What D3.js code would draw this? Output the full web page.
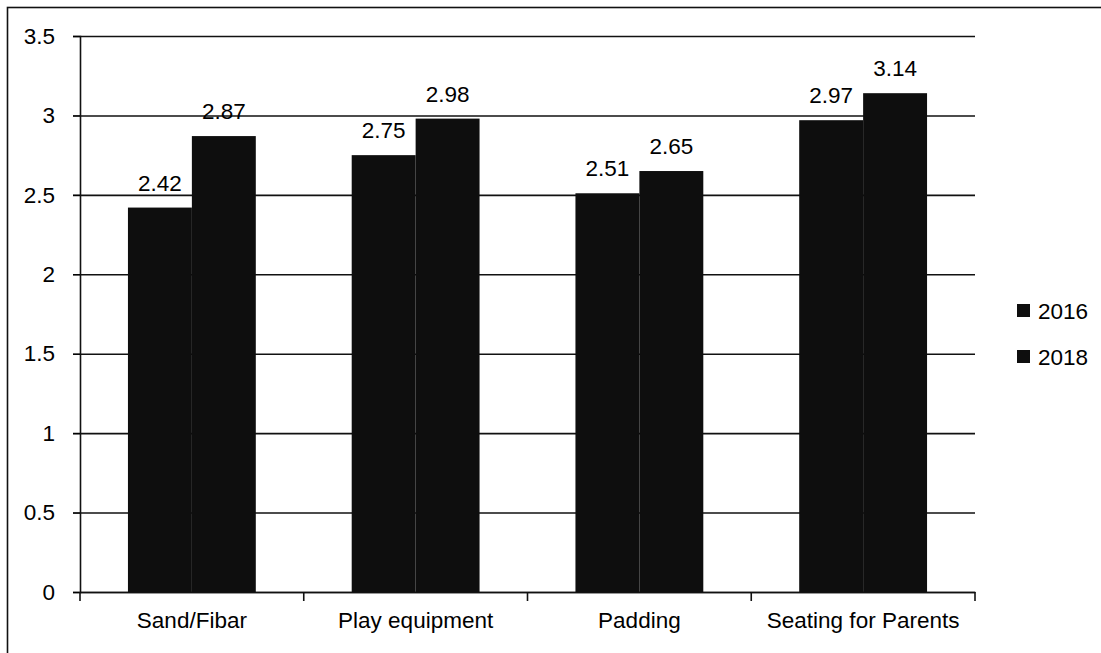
<!DOCTYPE html>
<html>
<head>
<meta charset="utf-8">
<script src="https://cdn.jsdelivr.net/npm/d3@7"></script>
<style>
  body { margin: 0; background: #fff; }
  svg text { font-family: "Liberation Sans", Arial, sans-serif; fill: #000; }
</style>
</head>
<body>
<div id="viz"></div>
<script>
// Datos
let categorias = ['Sand/Fibar', 'Play equipment', 'Padding', 'Seating for Parents'];
let series = ['2016', '2018'];
let valores2016 = [2.42, 2.75, 2.51, 2.97];
let valores2018 = [2.87, 2.98, 2.65, 3.14];
let ticksY = [0, 0.5, 1, 1.5, 2, 2.5, 3, 3.5];

let w = 1101;
let h = 653;
let m = { top: 36, right: 126, bottom: 61, left: 80 };
let colorBarra = '#0e0e0e';
let tamLetra = '22.5px';

let datos = categorias.map(function(c, i) {
    return { cat: c, valores: [
        { serie: '2016', valor: valores2016[i] },
        { serie: '2018', valor: valores2018[i] }
    ]};
});

let svg = d3.select('#viz')
    .append('svg')
        .attr('width', w)
        .attr('height', h);

// Marco del área del gráfico (solo se ve arriba y a la izquierda)
svg.append('rect')
    .attr('x', 7.5).attr('y', 7.5)
    .attr('width', w + 20).attr('height', h + 20)
    .attr('fill', 'none')
    .attr('stroke', '#111')
    .attr('stroke-width', 1.6);

// Escalas
let x0 = d3.scaleBand()
    .domain(categorias)
    .range([m.left, w - m.right])
    .padding(0);

let x1 = d3.scaleBand()
    .domain(series)
    .range([x0.bandwidth() * 0.2143, x0.bandwidth() * 0.7857])
    .padding(0);

let y = d3.scaleLinear()
    .domain([0, 3.5])
    .range([h - m.bottom, m.top]);

// Líneas de la grilla
svg.append('g')
    .attr('transform', `translate(${m.left},0)`)
    .call(d3.axisLeft(y).tickValues(ticksY).tickSize(-(w - m.right - m.left)).tickFormat(''))
    .call(g => g.select('.domain').remove())
    .call(g => g.selectAll('line').attr('stroke', '#111').attr('stroke-width', 1.6).attr('x1', -7));

// Eje Y
svg.append('g')
    .attr('transform', `translate(${m.left},0)`)
    .call(d3.axisLeft(y).tickValues(ticksY).tickSize(7).tickPadding(18).tickFormat(d3.format('')))
    .call(g => g.select('.domain').attr('stroke', '#111').attr('stroke-width', 1.6))
    .call(g => g.selectAll('text').style('font-size', tamLetra));

// Barras
let grupos = svg.selectAll('.grupo')
    .data(datos)
    .enter()
    .append('g')
        .attr('class', 'grupo')
        .attr('transform', d => `translate(${x0(d.cat)},0)`);

grupos.selectAll('rect')
    .data(d => d.valores)
    .enter()
    .append('rect')
        .attr('x', d => x1(d.serie))
        .attr('y', d => y(d.valor))
        .attr('width', x1.bandwidth())
        .attr('height', d => y(0) - y(d.valor))
        .attr('fill', colorBarra);

// Etiquetas de valores
grupos.selectAll('.label')
    .data(d => d.valores)
    .enter()
    .append('text')
        .attr('class', 'label')
        .attr('x', d => x1(d.serie) + x1.bandwidth() / 2)
        .attr('y', d => y(d.valor) - 17)
        .attr('text-anchor', 'middle')
        .style('font-size', tamLetra)
        .text(d => d.valor.toFixed(2));

// Eje X
let ejeX = d3.axisBottom(x0).tickSize(0).tickPadding(20);
svg.append('g')
    .attr('transform', `translate(0,${y(0)})`)
    .call(ejeX)
    .call(g => g.select('.domain').attr('stroke', '#111').attr('stroke-width', 1.6))
    .call(g => g.selectAll('text').style('font-size', tamLetra));

// Marcas entre categorías
let bordes = categorias.map(c => x0(c)).concat([x0.range()[1]]);
svg.append('g')
    .selectAll('line')
    .data(bordes)
    .enter()
    .append('line')
        .attr('x1', d => d).attr('x2', d => d)
        .attr('y1', y(0)).attr('y2', y(0) + 9)
        .attr('stroke', '#111')
        .attr('stroke-width', 1.6);

// Leyenda
let leyenda = svg.selectAll('.leyenda')
    .data(series)
    .enter()
    .append('g')
        .attr('class', 'leyenda')
        .attr('transform', (d, i) => `translate(1017,${304 + i * 46})`);

leyenda.append('rect')
    .attr('width', 13).attr('height', 13)
    .attr('fill', colorBarra);

leyenda.append('text')
    .attr('x', 21)
    .attr('y', 15)
    .style('font-size', tamLetra)
    .text(d => d);
</script>
</body>
</html>
